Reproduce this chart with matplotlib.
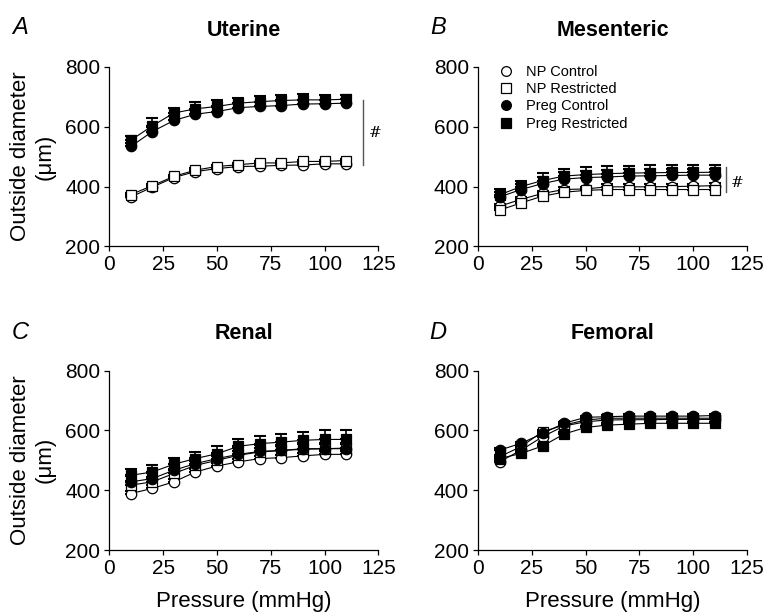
import numpy as np
import matplotlib
matplotlib.use("Agg")
import matplotlib.pyplot as plt
from matplotlib.lines import Line2D

plt.rcParams.update({'font.family': ['Liberation Sans', 'DejaVu Sans']})

# data
pressure = [10, 20, 30, 40, 50, 60, 70, 80, 90, 100, 110]
groups = ['NP Control', 'NP Restricted', 'Preg Control', 'Preg Restricted']
titles = ['Uterine', 'Mesenteric', 'Renal', 'Femoral']
letters = ['A', 'B', 'C', 'D']

ut_nc = [365, 398, 430, 450, 460, 467, 468, 471, 472, 476, 476]
ut_nr = [373, 403, 434, 455, 467, 473, 479, 479, 484, 484, 487]
ut_pc = [534, 584, 621, 642, 651, 664, 668, 671, 676, 677, 679]
ut_pr = [555, 603, 646, 660, 668, 679, 684, 688, 690, 690, 692]
ut_err = [[6, 6, 6, 6, 6, 6, 6, 6, 6, 6, 6],
          [6, 6, 6, 6, 6, 6, 6, 6, 6, 6, 6],
          [12, 15, 14, 14, 14, 14, 14, 14, 14, 14, 14],
          [15, 25, 18, 22, 20, 18, 18, 18, 18, 15, 15]]

me_nc = [334, 357, 377, 390, 392, 399, 399, 399, 400, 401, 403]
me_nr = [321, 345, 368, 381, 387, 390, 390, 390, 390, 390, 390]
me_pc = [365, 390, 410, 425, 430, 432, 435, 436, 437, 438, 438]
me_pr = [372, 400, 420, 435, 440, 443, 445, 446, 447, 447, 448]
me_err = [[8, 8, 8, 8, 8, 8, 8, 8, 8, 8, 8],
          [8, 8, 8, 8, 8, 8, 8, 8, 8, 8, 8],
          [18, 20, 22, 22, 22, 22, 22, 22, 22, 22, 22],
          [20, 20, 25, 25, 25, 25, 25, 25, 25, 25, 25]]

re_nc = [389, 406, 428, 461, 481, 495, 506, 509, 515, 520, 520]
re_nr = [417, 428, 456, 483, 500, 517, 528, 533, 539, 539, 541]
re_pc = [428, 439, 467, 489, 506, 520, 530, 533, 537, 539, 539]
re_pr = [450, 461, 487, 506, 522, 547, 556, 561, 567, 570, 570]
re_err = [[10, 10, 10, 10, 10, 10, 10, 10, 10, 10, 10],
          [15, 15, 15, 15, 15, 15, 15, 15, 15, 15, 15],
          [20, 20, 20, 20, 20, 20, 20, 20, 20, 20, 20],
          [22, 25, 22, 22, 25, 25, 25, 28, 28, 30, 30]]

fe_nc = [495, 534, 579, 615, 629, 635, 636, 636, 637, 637, 637]
fe_nr = [512, 546, 596, 618, 635, 641, 641, 641, 641, 641, 641]
fe_pc = [534, 557, 590, 624, 644, 646, 648, 648, 648, 648, 650]
fe_pr = [506, 523, 548, 588, 610, 618, 621, 624, 624, 624, 624]
fe_err = [[6] * 11, [6] * 11, [6] * 11, [6] * 11]

panels = [(ut_nc, ut_nr, ut_pc, ut_pr, ut_err),
          (me_nc, me_nr, me_pc, me_pr, me_err),
          (re_nc, re_nr, re_pc, re_pr, re_err),
          (fe_nc, fe_nr, fe_pc, fe_pr, fe_err)]

markers = ['o', 's', 'o', 's']
faces = ['white', 'white', 'black', 'black']

W, H = 766, 613
fig = plt.figure(figsize=(W / 100, H / 100), dpi=100)

# axes boxes in pixels: left, top
boxes = [(109.3, 67), (478, 67), (109.3, 370.7), (478, 370.7)]
aw, ah = 269, 179.3

axes = []
for i, (l, t) in enumerate(boxes):
    ax = fig.add_axes([l / W, 1 - (t + ah) / H, aw / W, ah / H])
    axes.append(ax)
    data = panels[i]
    for g in range(4):
        y = np.array(data[g])
        err = np.array(data[4][g])
        ax.errorbar(pressure, y, yerr=[np.zeros_like(err), err], fmt='none',
                    ecolor='black', elinewidth=1.2, capsize=4, capthick=1.5, zorder=2)
    for g in range(4):
        ax.plot(pressure, data[g], color='black', lw=0.8, marker=markers[g],
                ms=7.5, mfc=faces[g], mec='black', mew=0.9, zorder=3 + g)
    ax.set_xlim(0, 125)
    ax.set_ylim(200, 800)
    ax.set_xticks([0, 25, 50, 75, 100, 125])
    ax.set_yticks([200, 400, 600, 800])
    for s in ['top', 'right']:
        ax.spines[s].set_visible(False)
    for s in ['left', 'bottom']:
        ax.spines[s].set_linewidth(0.9)
    ax.tick_params(direction='out', length=3.5, width=0.9, labelsize=15, pad=3)
    ax.text(0.5, 1 + 37 / ah, titles[i], transform=ax.transAxes, ha='center',
            va='center', fontsize=15.5, fontweight='bold')
    lx = 20 if i % 2 == 0 else 438
    ly = 27 if i < 2 else 332
    fig.text(lx / W, 1 - ly / H, letters[i], fontsize=17, style='italic',
             ha='center', va='center')

# y labels
for t in [67, 370.7]:
    fig.text(33 / W, 1 - (t + ah / 2) / H, 'Outside diameter\n(\u03bcm)', rotation=90,
             ha='center', va='center', fontsize=16, linespacing=1.2,
             multialignment='center')
# x labels
for l in [109.3, 478]:
    fig.text((l + aw / 2) / W, 1 - 601 / H, 'Pressure (mmHg)', ha='center',
             va='center', fontsize=16)

# significance brackets
axes[0].plot([117.9, 117.9], [472, 690], color='#555555', lw=1, clip_on=False)
axes[0].text(123.5, 579, '#', family='DejaVu Serif', fontsize=11, ha='center', va='center')
axes[1].plot([115.1, 115.1], [381, 465], color='#555555', lw=1, clip_on=False)
axes[1].text(120.4, 411, '#', family='DejaVu Serif', fontsize=11, ha='center', va='center')

# legend
handles = [Line2D([], [], ls='none', marker=markers[g], ms=7, mfc=faces[g],
                  mec='black', mew=0.9) for g in range(4)]
fig.legend(handles, groups, loc='upper left', bbox_to_anchor=(500 / W, 1 - 65 / H),
           frameon=False, fontsize=10.5, handlelength=0.8, handletextpad=1.0,
           labelspacing=0.22, borderpad=0, borderaxespad=0)

fig.savefig('out.png', dpi=100)
